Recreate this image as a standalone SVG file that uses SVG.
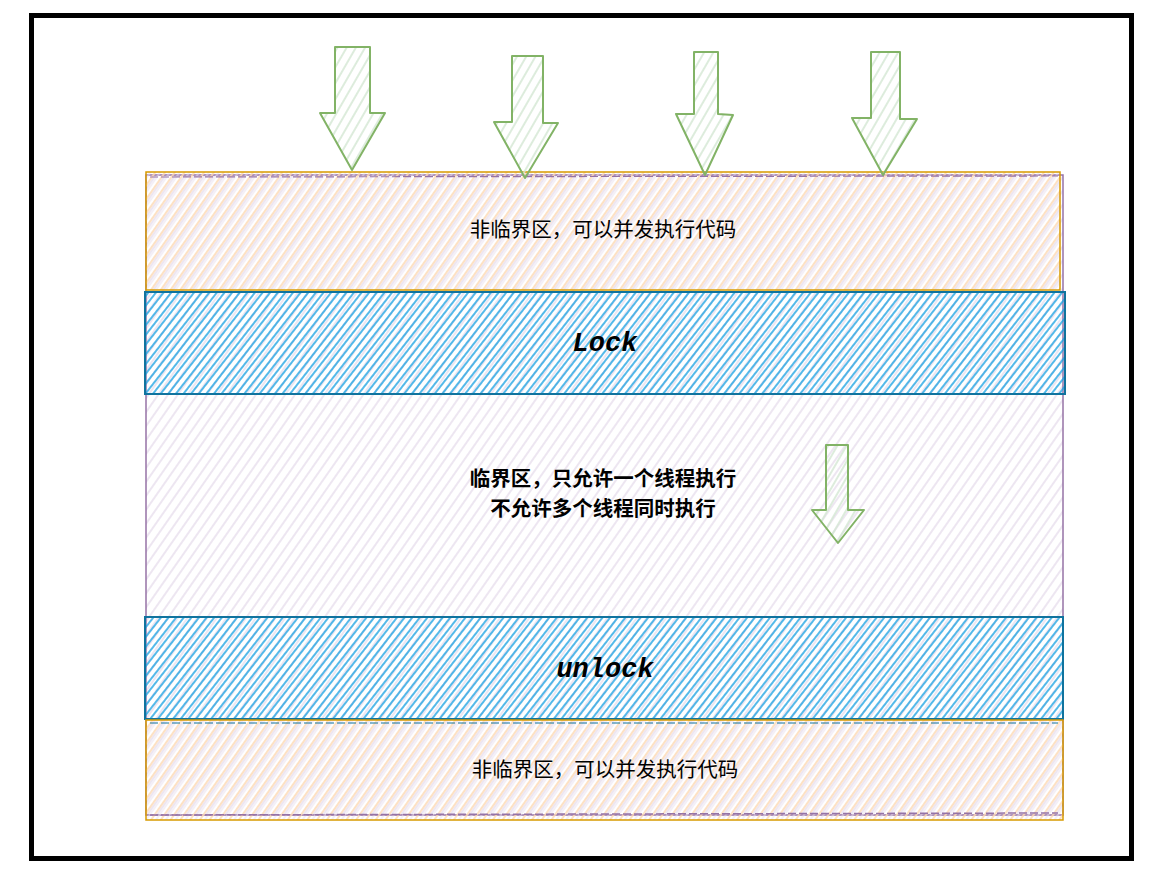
<svg xmlns="http://www.w3.org/2000/svg" width="1163" height="880" viewBox="0 0 1163 880">
<style>
.txt{font-family:"Noto Sans CJK SC","Liberation Sans",sans-serif;font-size:20.5px;fill:#000;text-anchor:middle}
.b{font-weight:bold}
.code{font-family:"Liberation Mono","Courier New",monospace;font-weight:bold;font-style:italic;font-size:27px;fill:#000;text-anchor:middle}
.arrow{fill:url(#hg);stroke:#82b366;stroke-width:2;stroke-linejoin:round}
</style>
<defs>
<pattern id="hp" width="8" height="8" patternUnits="userSpaceOnUse" patternTransform="rotate(-55)">
<line x1="0" y1="4" x2="8" y2="4" stroke="#e1d5e7" stroke-width="1.2"/>
</pattern>
<pattern id="ho" width="8" height="8" patternUnits="userSpaceOnUse" patternTransform="rotate(-55)">
<line x1="0" y1="2" x2="8" y2="2" stroke="#fdd9b5" stroke-width="1.6"/>
<line x1="0" y1="6" x2="8" y2="6" stroke="#e9e0ee" stroke-width="1"/>
</pattern>
<pattern id="hb" width="6" height="6" patternUnits="userSpaceOnUse" patternTransform="rotate(-52)">
<line x1="0" y1="3" x2="6" y2="3" stroke="#1ba1e2" stroke-width="1.5"/>
</pattern>
<pattern id="hg" width="8" height="8" patternUnits="userSpaceOnUse" patternTransform="rotate(-60)">
<line x1="0" y1="4" x2="8" y2="4" stroke="#d5e8d4" stroke-width="1.6"/>
</pattern>
</defs>
<rect x="0" y="0" width="1163" height="880" fill="#fff"/>
<rect id="frame" x="31.5" y="15.5" width="1100" height="843" fill="none" stroke="#000" stroke-width="5"/>
<g id="critical">
<rect x="146" y="175" width="917" height="640" fill="url(#hp)" stroke="#9673a6" stroke-width="1.5"/>
<text class="txt b" x="603" y="486">临界区，只允许一个线程执行</text>
<text class="txt b" x="603" y="516">不允许多个线程同时执行</text>
</g>
<g id="top-noncritical">
<rect x="146" y="172" width="914" height="118" fill="url(#ho)" stroke="#d79b00" stroke-width="1.5"/>
<line x1="150" y1="177" x2="1058" y2="176" stroke="#9673a6" stroke-width="1.2" stroke-dasharray="8 3"/>
<text class="txt" x="603" y="237">非临界区，可以并发执行代码</text>
</g>
<g id="lock">
<rect x="145" y="292" width="920" height="102" fill="url(#hb)" stroke="#10739e" stroke-width="2"/>
<text class="code" x="605" y="351">Lock</text>
</g>
<g id="unlock">
<rect x="145" y="617" width="918" height="102" fill="url(#hb)" stroke="#10739e" stroke-width="2"/>
<text class="code" x="605" y="677">unlock</text>
</g>
<g id="bottom-noncritical">
<rect x="146" y="720" width="917" height="100" fill="url(#ho)" stroke="#d79b00" stroke-width="1.5"/>
<line x1="150" y1="723" x2="1058" y2="723" stroke="#10739e" stroke-width="1" stroke-dasharray="8 3"/>
<line x1="150" y1="815" x2="1058" y2="813" stroke="#9673a6" stroke-width="1.5" stroke-dasharray="8 3"/>
<text class="txt" x="605" y="777">非临界区，可以并发执行代码</text>
</g>
<g id="arrows">
<polygon id="arrow1" class="arrow" points="335,47 370,47 370,113 385,113 352,170 320,113 335,113"/>
<polygon id="arrow2" class="arrow" points="512,56 543,56 543,123 558,123 525,178 494,122 512,122"/>
<polygon id="arrow3" class="arrow" points="694,52 718,52 718,114 733,115 705,175 676,114 694,114"/>
<polygon id="arrow4" class="arrow" points="871,52 900,52 900,119 917,119 883,175 852,118 871,118"/>
<polygon id="arrow5" class="arrow" points="826,445 848,445 848,510 864,510 838,543 812,510 826,510"/>
</g>
</svg>
